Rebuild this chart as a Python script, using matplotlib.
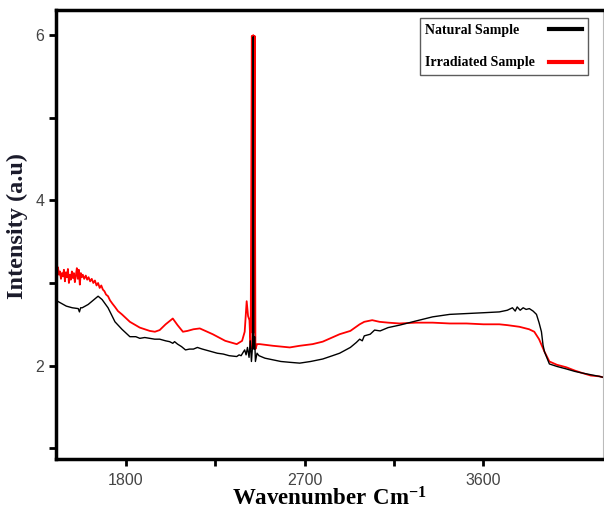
import matplotlib
matplotlib.use("Agg")
import matplotlib.pyplot as plt

plt.rcParams['mathtext.fontset'] = 'custom'
plt.rcParams['mathtext.rm'] = 'Liberation Serif'
plt.rcParams['mathtext.bf'] = 'Liberation Serif:bold'

# Espectro de la muestra natural
wn_natural = [1448, 1470, 1500, 1530, 1560, 1566, 1572, 1580, 1610, 1640, 1660, 1680,
              1710, 1745, 1780, 1820, 1850, 1870, 1895, 1920, 1945, 1970, 2000, 2020,
              2036, 2045, 2060, 2080, 2100, 2120, 2140, 2160, 2172, 2185, 2200, 2230,
              2260, 2290, 2320, 2358, 2370, 2380, 2390, 2398, 2405, 2412,
              2420, 2426, 2432, 2438, 2441, 2444, 2448, 2452, 2460, 2470, 2500, 2540,
              2580, 2625, 2675, 2730, 2791, 2840, 2876, 2930, 2960, 2977, 2990, 3000,
              3030, 3052, 3080, 3120, 3178, 3260, 3344, 3430, 3515, 3600, 3680, 3720,
              3746, 3760, 3770, 3785, 3800, 3815, 3831, 3850, 3867, 3880, 3892, 3900,
              3907, 3932, 3970, 4017, 4060, 4098, 4140, 4183, 4200]
int_natural = [2.79, 2.76, 2.72, 2.70, 2.69, 2.65, 2.70, 2.70, 2.74, 2.80, 2.84, 2.80,
               2.70, 2.53, 2.44, 2.35, 2.35, 2.33, 2.34, 2.33, 2.32, 2.32, 2.30, 2.29,
               2.27, 2.29, 2.26, 2.23, 2.19, 2.20, 2.20, 2.22, 2.21, 2.20, 2.19, 2.17,
               2.15, 2.14, 2.12, 2.11, 2.13, 2.12, 2.16, 2.19, 2.13, 2.22,
               2.10, 2.30, 2.05, 2.25, 5.98, 2.20, 2.35, 2.05, 2.15, 2.12, 2.09, 2.07,
               2.05, 2.04, 2.03, 2.05, 2.08, 2.12, 2.15, 2.22, 2.28, 2.32, 2.30, 2.36,
               2.38, 2.43, 2.42, 2.46, 2.49, 2.54, 2.59, 2.62, 2.63, 2.64, 2.65, 2.67,
               2.70, 2.66, 2.71, 2.67, 2.70, 2.68, 2.69, 2.66, 2.62, 2.52, 2.41, 2.25,
               2.17, 2.02, 1.99, 1.96, 1.93, 1.91, 1.89, 1.87, 1.86]

# Espectro de la muestra irradiada
wn_irradiada = [1448, 1453, 1458, 1463, 1468, 1473, 1478, 1483, 1488, 1493, 1498, 1503,
                1508, 1513, 1518, 1523, 1528, 1533, 1538, 1543, 1548, 1553, 1558, 1563,
                1568, 1573, 1578, 1583, 1590, 1598, 1605, 1612, 1620, 1628, 1636, 1644,
                1652, 1660, 1668, 1676, 1684, 1692, 1700, 1710, 1720, 1732, 1745, 1760,
                1780, 1820, 1870, 1920, 1946, 1970, 2000, 2036, 2060, 2087, 2110, 2140,
                2172, 2200, 2237, 2300, 2358, 2385, 2398, 2408, 2415, 2422, 2428, 2434,
                2437, 2441, 2444, 2448, 2452, 2460, 2474, 2540, 2625, 2675, 2740, 2791,
                2876, 2930, 2977, 3000, 3040, 3077, 3120, 3178, 3260, 3344, 3430, 3515,
                3600, 3680, 3720, 3781, 3830, 3856, 3880, 3907, 3932, 3970, 4017, 4060,
                4098, 4140, 4183, 4200]
int_irradiada = [3.06, 3.12, 3.19, 3.10, 3.14, 3.05, 3.12, 3.08, 3.16, 3.02, 3.13, 3.07,
                 3.17, 3.00, 3.10, 3.04, 3.14, 3.06, 3.12, 3.01, 3.09, 3.18, 3.05, 3.16,
                 2.98, 3.12, 3.07, 3.10, 3.05, 3.09, 3.04, 3.07, 3.02, 3.05, 3.00, 3.03,
                 2.97, 3.00, 2.94, 2.97, 2.92, 2.90, 2.86, 2.84, 2.79, 2.75, 2.71, 2.66,
                 2.62, 2.53, 2.46, 2.42, 2.41, 2.43, 2.50, 2.57, 2.49, 2.41, 2.42, 2.44,
                 2.45, 2.42, 2.38, 2.30, 2.26, 2.30, 2.41, 2.78, 2.60, 2.55, 2.20, 5.99,
                 2.40, 6.00, 2.40, 5.99, 2.20, 2.26, 2.26, 2.24, 2.22, 2.24, 2.26, 2.29,
                 2.38, 2.42, 2.50, 2.53, 2.55, 2.53, 2.52, 2.51, 2.52, 2.52, 2.51, 2.51,
                 2.50, 2.50, 2.49, 2.47, 2.44, 2.41, 2.32, 2.17, 2.05, 2.01, 1.98, 1.94,
                 1.91, 1.88, 1.87, 1.86]

xticks = [1800, 2700, 3600]
yticks = [2, 4, 6]

fig = plt.figure(figsize=(6.04, 5.11), dpi=100)
ax = fig.add_axes([0.0927, 0.1018, 0.905, 0.878])

ax.plot(wn_irradiada, int_irradiada, color='#ff0000', lw=1.3, label='Irradiated Sample')
ax.plot(wn_natural, int_natural, color='black', lw=1.0, label='Natural Sample')

ax.set_xlim(1448, 4200)
ax.set_ylim(0.87, 6.3)
ax.set_xticks(xticks)
ax.set_xticks([2250, 3150], minor=True)
ax.set_yticks(yticks)
ax.set_yticks([1, 3, 5], minor=True)

for s in ax.spines.values():
    s.set_linewidth(2.5)
ax.spines['right'].set_linewidth(0.8)
ax.spines['right'].set_color('#bbbbbb')

ax.tick_params(which='both', direction='out', length=5, width=2, colors='black',
               labelcolor='#444444', labelsize=11.5, labelfontfamily='Liberation Sans')
ax.tick_params(axis='x', pad=5)

ax.set_xlabel(r'$\mathbf{Wavenumber\ Cm^{-1}}$', fontsize=16.5)
ax.xaxis.set_label_coords(0.5, -0.063)
ax.set_ylabel('Intensity (a.u)', fontsize=17.5, fontweight='bold',
              family='Liberation Serif', color='#1a1a2a')
ax.yaxis.set_label_coords(-0.052, 0.52)

h, l = ax.get_legend_handles_labels()
leg = ax.legend(h[::-1], l[::-1], loc='upper right', bbox_to_anchor=(0.973, 0.982),
                borderaxespad=0, markerfirst=False, fancybox=False, edgecolor='#333333',
                prop={'family': 'Liberation Serif', 'weight': 'bold', 'size': 10},
                handlelength=2.4, handletextpad=1.0, labelspacing=1.4, borderpad=0.4)
leg.get_frame().set_linewidth(1.0)
for ln in leg.get_lines():
    ln.set_linewidth(3)

# texto alineado a la izquierda y linea a la derecha en cada fila de la leyenda
fig.canvas.draw()
renderer = fig.canvas.get_renderer()
columnas = leg._legend_handle_box.get_children()
filas = [f for c in columnas for f in c.get_children()]
ancho = max(f.get_bbox(renderer).width for f in filas)
for f in filas:
    f.mode = 'expand'
    f.width = ancho

fig.savefig('out.png', dpi=100)
